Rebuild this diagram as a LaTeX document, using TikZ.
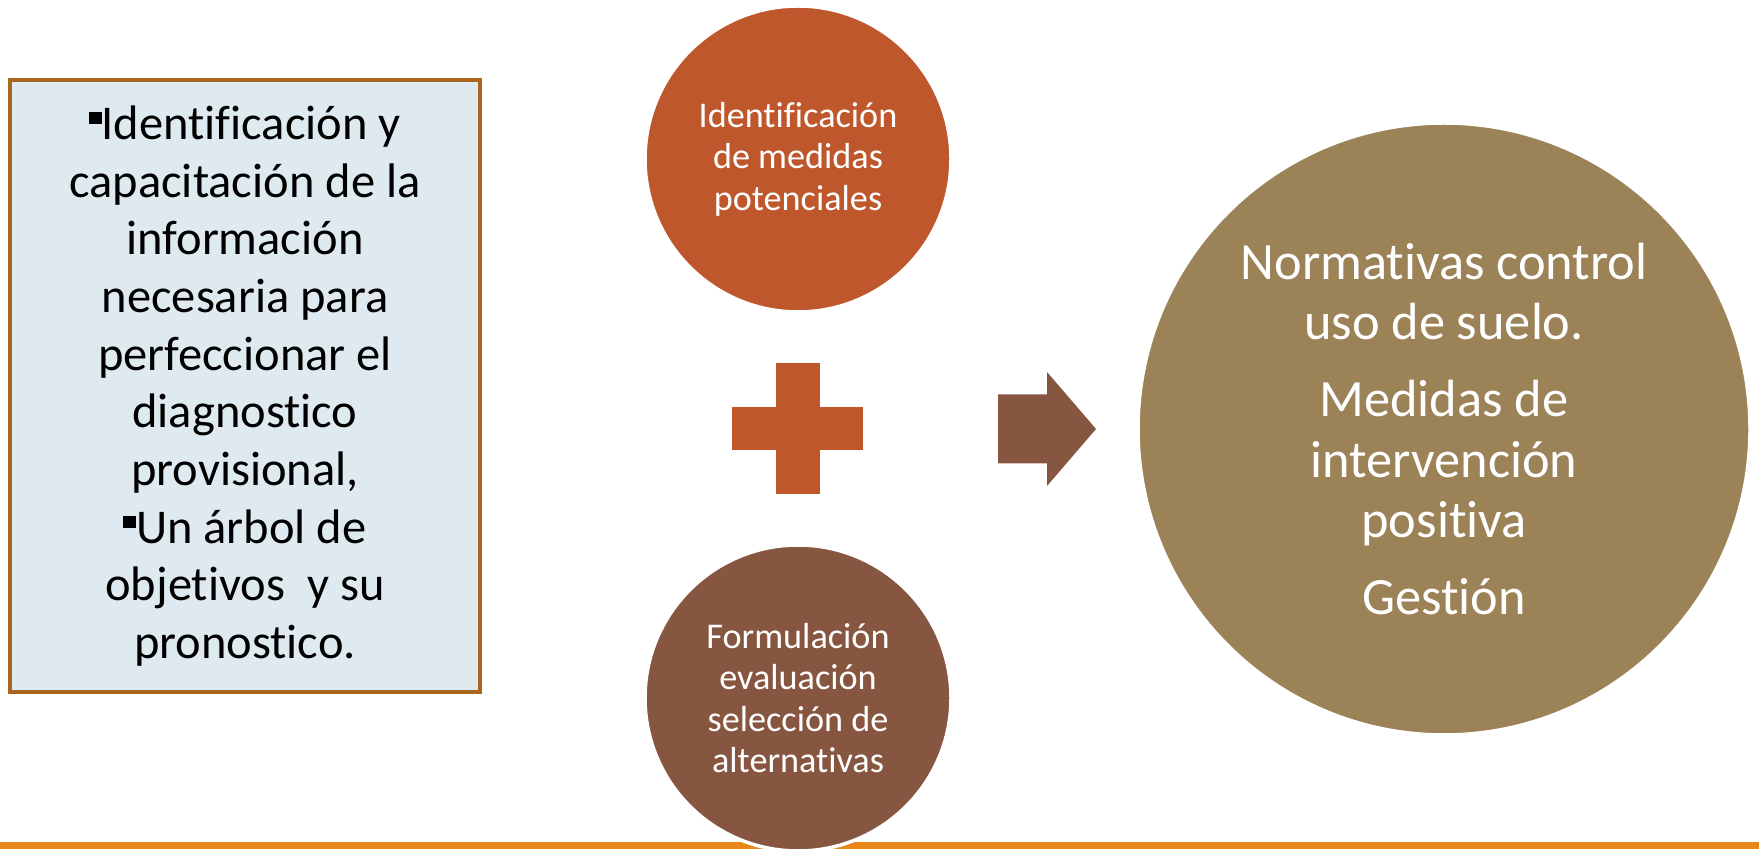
\documentclass[tikz,border=0pt]{standalone}
\usepackage{fontspec}
\setmainfont{Carlito}[RawFeature={-liga;-clig;-calt;-dlig}]
\usetikzlibrary{positioning}

\definecolor{RustOrange}{HTML}{BE582C}
\definecolor{CocoaBrown}{HTML}{875640}
\definecolor{OliveTan}{HTML}{9C8257}
\definecolor{PaleBlue}{HTML}{DEEAF0}
\definecolor{BoxEdge}{HTML}{A8661E}
\definecolor{LineOrange}{HTML}{E8861A}

\newcommand{\sqbullet}{\rule[0.32em]{0.26em}{0.24em}}

\begin{document}
\begin{tikzpicture}
[
InfoBox/.style={rectangle, draw=BoxEdge, fill=PaleBlue, line width=1.2pt, minimum width=4.7cm, minimum height=6.12cm, inner sep=0pt, align=center, font=\fontsize{13.8}{16.4}\selectfont},
SmallCircle/.style={circle, draw=white, line width=1pt, minimum size=3.06cm, inner sep=0pt, text=white, align=center, font=\fontsize{10.3}{11.8}\selectfont},
BigCircle/.style={circle, draw=white, line width=1pt, fill=OliveTan, minimum size=6.12cm, inner sep=0pt, text=white, align=center, font=\fontsize{14.9}{17.2}\selectfont},
PlusBar/.style={fill=RustOrange},
BlockArrow/.style={fill=CocoaBrown},
BottomLine/.style={fill=LineOrange},
]

\useasboundingbox (0,0) rectangle (17.59,8.49);

%\draw[help lines] (0,0) grid (17.59,8.49);
\fill[BottomLine] (0,0) rectangle (17.59,0.07);

\node[InfoBox] (info) at (2.45,4.63) {%
\sqbullet Identificación y\\ capacitación de la\\ información\\ necesaria para\\ perfeccionar el\\ diagnostico\\ provisional,\\ \sqbullet Un árbol de\\ objetivos\ \ y su\\ pronostico.};

\node[SmallCircle, fill=RustOrange] (medidas) at (7.98,6.90) {Identificación\\ de medidas\\ potenciales};
\node[SmallCircle, fill=CocoaBrown] (formula) at (7.98,1.51) {Formulación\\ evaluación\\ selección de\\ alternativas};

\node[BigCircle] (result) at (14.44,4.20) {Normativas control\\ uso de suelo.\\[4.7pt] Medidas de\\ intervención\\ positiva\\[4.7pt] Gestión};

% plus sign
\coordinate (plus) at (7.975,4.205);
\fill[PlusBar] (plus) ++(-0.22,-0.655) rectangle ++(0.44,1.31);
\fill[PlusBar] (plus) ++(-0.655,-0.215) rectangle ++(1.31,0.43);

% block arrow
\coordinate (arrow) at (9.98,4.20);
\fill[BlockArrow] (arrow) ++(0,0.345) -- ++(0.49,0) -- ++(0,0.225) -- ++(0.49,-0.57)
  -- ++(-0.49,-0.57) -- ++(0,0.225) -- ++(-0.49,0) -- cycle;

\end{tikzpicture}
\end{document}
